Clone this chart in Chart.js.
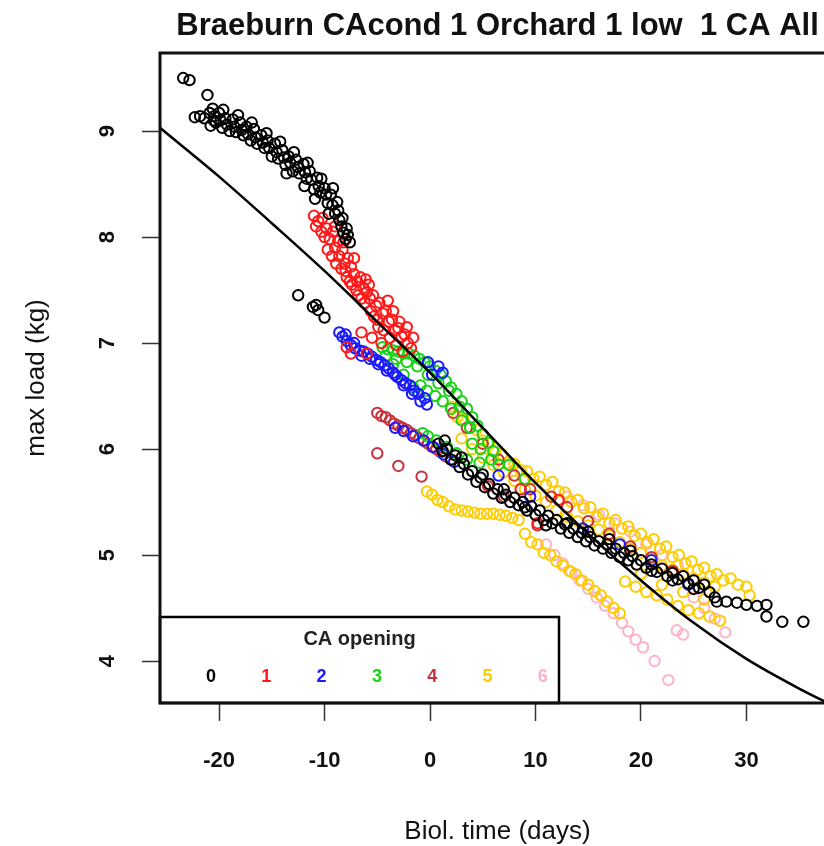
<!DOCTYPE html>
<html>
<head>
<meta charset="utf-8">
<script src="https://cdn.jsdelivr.net/npm/chart.js@4.4.1/dist/chart.umd.min.js"></script>
<style>
html,body{margin:0;padding:0;overflow:hidden;background:#fff;}
canvas{display:block;}
</style>
</head>
<body>
<canvas id="c" width="850" height="846"></canvas>
<script>
// ---- data ----
const chartTitle = 'Braeburn CAcond 1 Orchard 1 low  1 CA All';
const xTitle = 'Biol. time (days)';
const yTitle = 'max load (kg)';
const xTicks = [-20, -10, 0, 10, 20, 30];
const yTicks = [4, 5, 6, 7, 8, 9];
const legendTitle = 'CA opening';
const groupLabels = ['0', '1', '2', '3', '4', '5', '6'];

// fitted curve
const curveX = [-25.6, -20, -15, -10, -5, 0, 5, 10, 15, 20, 25, 30, 35, 38.4];
const curveY = [9.03, 8.57, 8.13, 7.68, 7.20, 6.72, 6.20, 5.68, 5.20, 4.76, 4.36, 4.02, 3.74, 3.57];

// CA opening 0
const ca0 = [
 [-23.4,9.50],[-22.8,9.48],[-21.1,9.34],[-22.3,9.13],[-21.4,9.12],[-20.9,9.17],[-20.5,9.10],[-21.8,9.14],
 [-20.6,9.21],[-20.3,9.08],[-20.0,9.17],[-19.7,9.03],[-19.4,9.12],[-19.0,9.00],[-18.7,9.11],[-18.4,8.99],
 [-18.0,9.08],[-17.7,8.96],[-17.4,9.04],[-17.0,8.91],[-16.7,9.02],[-16.4,8.88],[-16.0,8.96],[-15.7,8.84],
 [-15.4,8.91],[-15.0,8.76],[-14.7,8.88],[-14.4,8.74],[-14.0,8.82],[-13.7,8.68],[-13.4,8.76],[-13.0,8.62],
 [-12.7,8.73],[-12.4,8.60],[-12.0,8.69],[-11.7,8.55],[-11.4,8.62],[-11.0,8.45],[-10.7,8.56],[-10.4,8.42],
 [-10.0,8.46],[-9.7,8.32],[-9.4,8.40],[-9.0,8.22],[-8.8,8.33],[-8.6,8.16],[-8.4,8.10],[-8.2,8.04],
 [-8.0,7.98],[-7.8,8.02],[-7.6,7.95],
 [-20.45,9.14],[-19.85,9.10],[-19.25,9.06],[-18.55,9.04],[-17.85,9.01],[-17.25,8.97],[-16.55,8.94],
 [-15.85,8.89],[-15.25,8.84],[-14.55,8.80],[-13.85,8.75],[-13.25,8.70],[-12.55,8.66],[-11.85,8.61],
 [-11.25,8.54],[-10.55,8.48],[-9.85,8.40],[-9.25,8.30],[-8.7,8.25],[-8.3,8.18],[-7.9,8.08],
 [-20.8,9.05],[-19.6,9.20],[-18.2,9.15],[-16.9,9.08],[-15.5,8.98],[-14.2,8.90],[-12.9,8.80],[-11.6,8.70],
 [-10.3,8.55],[-9.2,8.46],[-13.6,8.60],[-11.9,8.48],[-10.9,8.36],[-9.6,8.22],
 [-12.5,7.45],[-11.1,7.34],[-10.6,7.31],[-10.0,7.24],[-10.8,7.36],
 [0.8,6.05],[1.2,5.98],[1.6,6.00],[2.0,5.90],[2.4,5.94],[2.8,5.83],[3.2,5.86],[3.6,5.76],[4.0,5.79],
 [4.4,5.69],[4.8,5.73],[5.2,5.64],[5.6,5.67],[6.0,5.58],[6.4,5.62],[6.8,5.54],[7.2,5.57],[7.6,5.50],
 [8.0,5.54],[8.4,5.47],[8.8,5.50],[9.2,5.42],[9.6,5.46],[10.0,5.38],[10.4,5.42],[10.8,5.33],[11.2,5.37],
 [11.6,5.30],[12.0,5.33],[12.4,5.25],[12.8,5.29],[13.2,5.21],[13.6,5.25],[14.0,5.17],[14.4,5.21],
 [14.8,5.13],[15.2,5.17],[15.6,5.09],[16.0,5.13],[16.4,5.06],[16.8,5.10],[17.2,5.02],[17.6,5.06],
 [18.0,4.98],[18.4,5.02],[18.8,4.95],[19.2,4.99],[19.6,4.91],[20.0,4.95],[20.5,4.88],[21.0,4.91],
 [21.5,4.84],[22.0,4.87],[22.5,4.80],[23.0,4.83],[23.5,4.77],[24.0,4.80],[24.5,4.73],[25.0,4.76],
 [25.5,4.69],[26.0,4.72],[26.5,4.65],[27.0,4.60],[27.2,4.56],[28.1,4.56],[29.1,4.55],[30.0,4.53],
 [31.0,4.52],[31.9,4.53],[31.9,4.42],[33.4,4.37],[35.4,4.37],
 [1.4,6.08],[3.0,5.92],[5.0,5.76],[7.0,5.62],[9.0,5.45],[11.0,5.28],[13.0,5.30],[15.0,5.22],[17.0,5.15],
 [19.0,5.04],[21.0,4.85],[23.0,4.76],[25.0,4.68]
];
// CA opening 1
const ca1 = [
 [-11.0,8.20],[-10.6,8.15],[-10.2,8.18],[-9.8,8.08],[-10.0,8.00],[-9.5,7.98],[-9.2,8.05],[-9.0,7.90],
 [-8.7,7.96],[-8.6,7.82],[-8.3,7.88],[-8.1,7.75],[-7.8,7.80],[-8.4,7.70],[-7.5,7.72],[-7.9,7.62],
 [-7.2,7.65],[-6.9,7.58],[-7.4,7.55],[-6.6,7.62],[-6.3,7.52],[-6.8,7.45],[-6.0,7.48],[-5.7,7.42],
 [-6.2,7.38],[-5.4,7.45],[-5.1,7.35],[-5.6,7.30],[-4.8,7.38],[-4.5,7.28],[-5.0,7.22],[-4.2,7.30],
 [-3.9,7.20],[-4.4,7.12],[-3.6,7.22],[-3.3,7.12],[-3.8,7.05],[-3.0,7.14],[-2.7,7.06],[-3.2,6.98],
 [-2.4,7.08],[-2.1,7.00],[-1.8,6.95],[-2.6,6.92],[-7.9,6.96],[-7.5,6.90],[-6.0,6.90],[-6.5,7.10],
 [-5.5,7.05],[-4.6,7.00],
 [-10.8,8.10],[-10.3,8.05],[-9.7,7.88],[-9.3,7.82],[-8.9,7.75],[-8.0,7.68],[-7.6,7.58],[-7.0,7.50],
 [-6.5,7.42],[-6.1,7.60],[-5.8,7.55],[-5.3,7.25],[-4.9,7.15],[-4.0,7.40],[-3.5,7.30],[-2.9,7.20],
 [-2.2,7.15],[-1.6,7.05],[-9.0,8.10],[-8.2,7.95],[-7.2,7.80],
 [8.6,5.62],[10.2,5.30],[12.2,5.52]
];
// CA opening 2
const ca2 = [
 [-8.6,7.10],[-8.3,7.06],[-7.9,7.02],[-7.5,6.98],[-7.1,6.95],[-6.7,6.93],[-6.3,6.92],[-5.9,6.90],
 [-5.5,6.87],[-5.1,6.84],[-4.7,6.82],[-4.3,6.79],[-3.9,6.76],[-3.5,6.72],[-3.1,6.68],[-2.7,6.65],
 [-2.3,6.62],[-1.9,6.60],[-1.5,6.55],[-1.1,6.52],[-0.5,6.48],[0.2,6.70],[0.8,6.78],[1.2,6.72],[-0.2,6.82],
 [-8.0,7.08],[-7.2,7.00],[-6.5,6.88],[-5.7,6.85],[-4.9,6.80],[-4.1,6.74],[-3.3,6.70],[-2.5,6.60],
 [-1.7,6.52],[-0.9,6.45],[-0.3,6.42],
 [-3.3,6.20],[-2.5,6.17],[-1.6,6.12],[-0.6,6.08],[0.3,6.02],[1.3,5.95],[2.3,5.88],
 [6.5,5.75],[9.5,5.55],[14.5,5.25],[18.0,5.10],[21.0,4.95],[24.5,4.72]
];
// CA opening 3
const ca3 = [
 [-4.5,6.96],[-4.0,6.94],[-3.5,6.93],[-3.0,6.92],[-2.5,6.90],[-2.0,6.90],[-1.5,6.88],[-1.0,6.85],
 [-0.5,6.82],[0.0,6.78],[0.5,6.74],[1.0,6.70],[1.5,6.64],[2.0,6.58],[2.5,6.52],[3.0,6.45],[3.5,6.38],
 [4.0,6.30],[4.5,6.22],[5.0,6.14],[5.5,6.06],[6.0,5.98],[-1.6,6.58],[-0.9,6.60],[-0.3,6.55],[0.5,6.50],
 [1.2,6.45],[2.0,6.38],[3.0,6.27],[-0.7,6.15],[-0.2,6.12],[0.6,6.08],[1.6,6.02],[2.5,5.96],[3.5,5.90],
 [4.7,5.87],[4.0,6.05],[-2.5,6.70],[-3.5,6.80],[7.5,5.85],[9.0,5.72],
 [-4.2,6.88],[-3.2,6.85],[-2.2,6.82],[-1.2,6.78],[-0.2,6.70],[0.8,6.62],[1.8,6.55],[2.8,6.40],
 [3.8,6.20],[4.8,6.00],[5.8,5.90],[6.5,5.85]
];
// CA opening 4
const ca4 = [
 [-5.0,6.34],[-4.6,6.31],[-4.2,6.30],[-3.8,6.27],[-3.4,6.24],[-3.0,6.22],[-2.6,6.20],[-2.2,6.18],
 [-1.8,6.15],[-1.4,6.13],[-1.0,6.10],[-0.6,6.08],[-0.2,6.05],[0.2,6.02],[0.6,6.00],[1.0,5.97],
 [1.5,5.93],[2.0,5.90],[-5.0,5.96],[-3.0,5.84],[-0.8,5.74],
 [2.2,6.34],[3.5,6.20],[5.0,6.05],[6.5,5.90],[8.0,5.75],[9.5,5.62],[10.2,5.28],[11.5,5.55],[13.0,5.45],
 [15.0,5.32],[17.0,5.20],[19.0,5.08],[21.0,4.98],[23.0,4.85],[7.0,5.55],[5.5,5.65]
];
// CA opening 5
const ca5 = [
 [-0.3,5.60],[0.2,5.57],[0.7,5.52],[1.2,5.50],[1.8,5.46],[2.4,5.43],[3.0,5.42],[3.6,5.41],[4.2,5.40],
 [4.8,5.39],[5.4,5.39],[6.0,5.39],[6.6,5.38],[7.2,5.37],[7.8,5.35],[8.4,5.33],
 [2.0,6.40],[2.6,6.30],[3.2,6.28],[3.8,6.20],[4.4,6.18],[5.0,6.08],[5.6,6.06],[6.2,5.97],[6.8,5.95],
 [7.4,5.87],[8.0,5.86],[8.6,5.80],[9.2,5.79],[9.8,5.72],[10.4,5.74],[11.0,5.66],[11.6,5.69],[12.2,5.60],
 [12.8,5.59],[13.4,5.50],[14.0,5.52],[14.6,5.44],[15.2,5.45],[15.8,5.36],[16.4,5.39],[17.0,5.30],
 [17.6,5.33],[18.2,5.25],[18.8,5.27],[19.4,5.18],[20.0,5.20],[20.6,5.12],[21.2,5.15],[21.8,5.06],
 [22.4,5.08],[23.0,4.98],[23.6,5.00],[24.2,4.92],[24.8,4.94],[25.4,4.86],[26.0,4.88],[26.6,4.80],
 [27.2,4.82],[27.8,4.76],[28.5,4.78],[29.2,4.72],[30.0,4.70],[30.3,4.62],
 [3.0,6.10],[4.0,6.00],[5.0,5.92],[6.0,5.85],[7.0,5.78],[8.0,5.70],[9.0,5.62],[10.0,5.56],[11.0,5.50],
 [12.0,5.42],[13.0,5.36],[14.0,5.32],[15.0,5.28],[16.0,5.24],[17.0,5.18],[18.0,5.12],[19.0,5.06],
 [20.0,5.02],[21.0,4.96],[22.0,4.90],[23.0,4.86],[24.0,4.82],[25.0,4.78],[26.0,4.74],[27.0,4.70],
 [9.0,5.20],[9.6,5.12],[10.2,5.10],[10.8,5.02],[11.4,5.00],[12.0,4.94],[12.6,4.90],[13.2,4.85],
 [13.8,4.82],[14.4,4.76],[15.0,4.72],[15.6,4.66],[16.2,4.62],[16.8,4.56],[17.4,4.50],[18.0,4.45],
 [18.5,4.75],[19.5,4.70],[20.5,4.65],[21.5,4.62],[22.5,4.58],[23.5,4.52],[24.5,4.48],[25.5,4.45],
 [26.5,4.42],[27.5,4.38],[20.0,4.82],[22.0,4.72],[24.0,4.65],[26.0,4.58]
];
// CA opening 6
const ca6 = [
 [11.0,5.10],[11.8,5.00],[12.6,4.92],[13.4,4.84],[14.2,4.76],[15.0,4.68],[15.8,4.60],[16.6,4.52],
 [17.4,4.45],[18.2,4.36],[18.8,4.28],[19.5,4.20],[20.2,4.13],[21.3,4.00],[22.6,3.82],
 [13.0,5.55],[14.5,5.47],[16.0,5.38],[17.5,5.30],[19.0,5.22],[20.5,5.10],[22.0,5.00],[23.5,4.90],
 [23.4,4.29],[24.0,4.25],[28.0,4.27],[26.0,4.50],[27.0,4.40],[25.0,4.60]
];

// ---- styles ----
const groupColors = ['#000000', '#ff1a1a', '#1a1aff', '#19d219', '#c8323c', '#ffcc00', '#ffb3c6'];
const groupData = [ca0, ca1, ca2, ca3, ca4, ca5, ca6];
const FONT = '"Liberation Sans", Arial, sans-serif';

const datasets = [{
  label: 'fit',
  data: curveX.map((x, i) => ({x: x, y: curveY[i]})),
  showLine: true,
  borderColor: '#000',
  borderWidth: 2.5,
  pointRadius: 0,
  cubicInterpolationMode: 'monotone',
  fill: false
}];
groupData.forEach((g, i) => {
  datasets.push({
    label: groupLabels[i],
    data: g.map(p => ({x: p[0], y: p[1]})),
    showLine: false,
    pointStyle: 'circle',
    pointRadius: 5.2,
    pointBorderWidth: 2,
    borderColor: groupColors[i],
    backgroundColor: 'rgba(0,0,0,0)',
    pointBackgroundColor: 'rgba(0,0,0,0)'
  });
});

const boxPlugin = {
  id: 'boxLegend',
  afterDraw(chart) {
    const ctx = chart.ctx;
    const a = chart.chartArea;
    ctx.save();
    const lx0 = a.left, lx1 = a.left + 399, ly0 = a.bottom - 86, ly1 = a.bottom;
    ctx.fillStyle = '#fff';
    ctx.fillRect(lx0, ly0, lx1 - lx0, ly1 - ly0);
    ctx.strokeStyle = '#000';
    ctx.lineWidth = 2.5;
    ctx.strokeRect(lx0, ly0, lx1 - lx0, ly1 - ly0);
    ctx.fillStyle = '#222';
    ctx.font = 'bold 20px ' + FONT;
    ctx.textAlign = 'center';
    ctx.textBaseline = 'middle';
    ctx.fillText(legendTitle, (lx0 + lx1) / 2, ly0 + 22);
    ctx.font = 'bold 18px ' + FONT;
    groupLabels.forEach((lab, i) => {
      ctx.fillStyle = groupColors[i];
      ctx.fillText(lab, lx0 + 51 + i * 55.3, ly0 + 60);
    });
    ctx.lineWidth = 3;
    ctx.strokeStyle = '#111';
    ctx.strokeRect(a.left, a.top, a.right - a.left, a.bottom - a.top);
    ctx.restore();
  }
};

new Chart(document.getElementById('c'), {
  type: 'scatter',
  data: {datasets: datasets},
  options: {
    responsive: false,
    animation: false,
    devicePixelRatio: 1,
    layout: {padding: {left: 0, right: 15, top: 0, bottom: 0}},
    plugins: {
      legend: {display: false},
      tooltip: {enabled: false},
      title: {
        display: true,
        text: chartTitle,
        fullSize: false,
        color: '#111',
        font: {family: FONT, size: 31, weight: 'bold', lineHeight: 1.2},
        padding: {top: 7.8, bottom: 8}
      }
    },
    scales: {
      x: {
        type: 'linear',
        min: -25.6,
        max: 38.4,
        afterBuildTicks: s => { s.ticks = xTicks.map(v => ({value: v})); },
        afterFit: s => { s.height = 143; },
        border: {display: false},
        grid: {drawOnChartArea: false, drawTicks: true, tickLength: 18, tickColor: '#333', tickWidth: 1.5},
        ticks: {color: '#111', padding: 27, maxRotation: 0, font: {family: FONT, size: 22, weight: 'bold'}},
        title: {display: true, text: xTitle, color: '#111', padding: {top: 0, bottom: -1.5},
          font: {family: FONT, size: 26}}
      },
      y: {
        type: 'linear',
        min: 3.604,
        max: 9.736,
        afterBuildTicks: s => { s.ticks = yTicks.map(v => ({value: v})); },
        afterFit: s => { s.width = 160; },
        border: {display: false},
        grid: {drawOnChartArea: false, drawTicks: true, tickLength: 18, tickColor: '#333', tickWidth: 1.5},
        ticks: {color: '#111', padding: 28, minRotation: 90, maxRotation: 90, crossAlign: 'center',
          font: {family: FONT, size: 22, weight: 'bold'}},
        title: {display: true, text: yTitle, color: '#111', padding: {top: 21, bottom: 0},
          font: {family: FONT, size: 26}}
      }
    }
  },
  plugins: [boxPlugin]
});
</script>
</body>
</html>
